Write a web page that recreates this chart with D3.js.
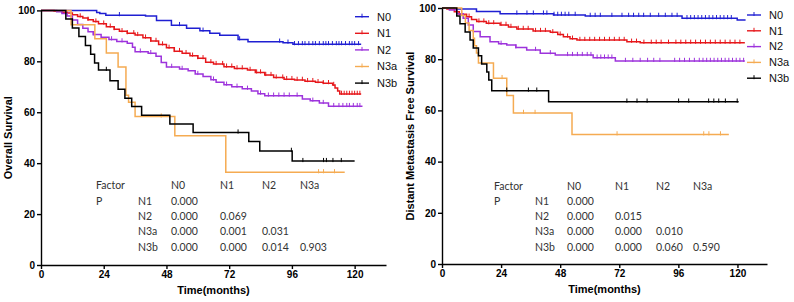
<!DOCTYPE html>
<html><head><meta charset="utf-8">
<script src="https://cdn.jsdelivr.net/npm/d3@7/dist/d3.min.js"></script>
<style>html,body{margin:0;padding:0;background:#fff;}svg{display:block;}</style>
</head><body><svg id="c" width="794" height="302"></svg>
<script>
// ---------- DATA ----------
const groups = ["N0", "N1", "N2", "N3a", "N3b"];
const xTicks = [0, 24, 48, 72, 96, 120];
const yTicks = [0, 20, 40, 60, 80, 100];

// Overall survival step points [month, %]
const osN0 = [[0,100],[21.3,99.2],[22.5,98.8],[24.8,98.1],[40,97.8],[44.2,96.0],[49.9,94.2],[55.7,93.0],[60.8,92.0],[64.6,91.0],[68.4,90.2],[75.4,88.6],[79.2,87.7],[92.6,87.3],[96.4,86.7]];
const osN1 = [[0,100],[5,99.7],[8,99.3],[10,99.0],[12,98.3],[14,97.6],[16,97.0],[18,96.3],[20,95.6],[22,94.8],[25,93.6],[28,92.6],[30,91.8],[33,91.0],[36,90.3],[39,89.3],[42,88.0],[45,86.6],[48,85.3],[51,84.0],[54,83.2],[57,82.2],[60,81.2],[63,79.6],[66,78.9],[70,77.9],[74,77.2],[79,76.6],[82,75.6],[85.6,74.6],[89,73.6],[93,73.0],[97,72.7],[101,72.2],[105,71.8],[108,71.4],[111.6,70.7],[112.5,69.5],[113.5,68.3],[114.3,67.2]];
const osN2 = [[0,100],[6,99.5],[8,98.8],[10,97.8],[12,96.2],[14,94.5],[16,93.0],[18,91.6],[20,90.5],[23,89.5],[26,88.6],[29,87.8],[33,87.1],[35,85.5],[36,83.8],[41,83.2],[44,82.0],[46,79.5],[48,77.8],[53,77.0],[56.3,76.3],[59,75.0],[62,74.0],[65,72.8],[67,71.8],[70,70.8],[73,70.0],[77,69.2],[80.5,68.3],[83,67.3],[85.6,66.5],[100,65.2],[103,64.5],[106.5,63.6],[110,62.4]];
const osN3a = [[0,100],[11.5,94.4],[20.6,88.9],[25,83.3],[29.5,77.8],[32.5,66.7],[33.5,63.9],[36,58.3],[51.2,50.8],[70.7,36.4]];
const osN3b = [[0,100],[9.5,96.6],[12,93.1],[14.5,89.7],[17,86.2],[19,82.8],[20.5,79.3],[22,76.6],[26.4,72.4],[29.5,69.0],[32.1,65.5],[34.7,62.3],[38.5,58.8],[49.3,55.4],[58.2,52.0],[79.5,48.5],[83.7,44.8],[96.1,40.8]];
const osEnd = [122.5, 122.5, 123, 116.2, 120];
const osCensN0 = [30,53,62,76,91.3,94.5,97,98.5,100,101,102.5,104,105,106.5,108,109,110,111.5,113,114,115,116.5,118,119,120,121.5];
const osCensN1 = [15,18,21,24,26.5,28,31,33,35.5,37,40,42,44,46.5,49,51,53,55.5,58,60,62,65,67,69.5,71,73,75,77,80,82.5,84,86,88,90,92.5,94,96,98,100,102,104,106,108,110,112,115,116,117,118,119,120,121,122];
const osCensN2 = [20,27,31,38,42,50,54,60,66,71,75,79,84,87,89,91,93,95,98,104,108,112,114,115.5,117,118,119.5,121,122];
const osCensN3a = [46,106.2,108.1,112.3];
const osCensN3b = [25,75.4,95.8,100.2,108.1,109.2,111.7,114.9];

// Distant metastasis free survival step points
const dmN0 = [[0,100],[5,99.6],[14,98.6],[23.6,97.8],[45.3,97.3],[58.2,96.9],[97.5,96.0],[119.9,95.3]];
const dmN1 = [[0,100],[2,99.6],[5,98.5],[7,97.6],[10,96.6],[12,95.5],[14.1,94.7],[18,94.0],[23.6,93.4],[27,92.6],[30.4,91.8],[37,91.0],[44,90.5],[47,89.6],[49.3,88.8],[52,88.0],[54.8,87.5],[75.1,86.8],[80.5,86.4]];
const dmN2 = [[0,100],[3,99.2],[6,97.8],[8.6,96.0],[10.7,93.4],[12.7,90.8],[15.5,88.8],[19.5,86.8],[23,86.0],[26.3,85.5],[30,84.6],[34.4,83.6],[39.9,82.3],[46,81.6],[61.4,80.6],[70.4,79.3]];
const dmN3a = [[0,100],[8,97.1],[9.5,94.1],[11,91.2],[12.7,88.2],[13.2,85.3],[14,82.4],[14.8,78.5],[20.9,72.6],[26.3,65.8],[29,59.0],[52.8,50.6]];
const dmN3b = [[0,100],[6,96.9],[7.3,93.8],[9.4,90.6],[11.4,87.5],[12.7,84.4],[14.8,81.3],[16.1,78.1],[18.2,75.0],[19,71.9],[20.2,67.7],[43.3,63.4]];
const dmEnd = [123.3, 123, 123, 116.5, 120.5];
const dmCensN0 = [30.4,34.5,37.1,41.2,42.6,45.5,47,48.5,50,51.5,54.1,60.2,62.2,64.3,69,73.1,75.8,77.8,79.9,81.9,84.6,88,90.7,93.4,95.5,99.5,101,102.5,104,105.5,107,108.5,110,111.5,113,114.5,116,117.5];
const dmCensN1 = [8,11,15,17,19,21,24,26,28,31,33,35,38,40,42,45,48,51,53,56,58,60,62,64,66,68,70,72,74,77,79,82,85,87,89,92,95,97,99,101,103,105,107,109,111,113,115,117,119,121];
const dmCensN2 = [24,30,38,44,51,53,55,57,59,60.5,63,64.5,66,67.5,69,74.5,77.5,80.5,83.5,86,88.5,94.5,96.5,98.5,100.5,102.5,104.5,106,107.5,109,110.5,112,113.5,115,116.5,118,119.5,121,122.5];
const dmCensN3a = [24.4,33.1,37.8,71.1,106.3,108.4,113.1];
const dmCensN3b = [26.3,35.1,38.5,75.1,79.2,83.3,96.1,100.2,108.3,110.4,112.4,115.1,119.9];

// P-value tables
const tableCols = ["N0", "N1", "N2", "N3a"];
const tableRows = ["N1", "N2", "N3a", "N3b"];
const osP = [["0.000"], ["0.000","0.069"], ["0.000","0.001","0.031"], ["0.000","0.000","0.014","0.903"]];
const dmP = [["0.000"], ["0.000","0.015"], ["0.000","0.000","0.010"], ["0.000","0.000","0.060","0.590"]];

// ---------- STYLE / LAYOUT ----------
const colors = ["#1f1fd2", "#e6171b", "#9d33dc", "#f5ab52", "#000000"];
const svg = d3.select("#c");
const axisFont = "'Liberation Sans', Arial, sans-serif";
const tableFont = "Lato, 'Open Sans', sans-serif";

const panels = [
  { x0: 41, x1: 386, y0: 265, y1: 10.4, ylabel: "Overall Survival", ylabX: 12,
    series: [osN0, osN1, osN2, osN3a, osN3b], ends: osEnd,
    cens: [osCensN0, osCensN1, osCensN2, osCensN3a, osCensN3b],
    legX: 355, legY0: 16.7, legDy: 16.6, p: osP,
    tab: { factorX: 96, rowX: 138, colX: [171, 220, 262, 300], rowY: [185, 201, 216, 231, 247] } },
  { x0: 442, x1: 767, y0: 264, y1: 8, ylabel: "Distant Metastasis Free Survival", ylabX: 414,
    series: [dmN0, dmN1, dmN2, dmN3a, dmN3b], ends: dmEnd,
    cens: [dmCensN0, dmCensN1, dmCensN2, dmCensN3a, dmCensN3b],
    legX: 747, legY0: 15, legDy: 15.8, p: dmP,
    tab: { factorX: 494, rowX: 535, colX: [567, 615, 656, 693], rowY: [186, 201, 216, 231, 247] } }
];

panels.forEach(P => {
  const x = d3.scaleLinear().domain([0, 132]).range([P.x0, P.x1]);
  const y = d3.scaleLinear().domain([0, 100]).range([P.y0, P.y1]);
  const g = svg.append("g");

  // curves
  P.series.forEach((s, i) => {
    const pts = s.concat([[P.ends[i], s[s.length - 1][1]]]);
    const line = d3.line().x(d => x(d[0])).y(d => y(d[1])).curve(d3.curveStepAfter);
    g.append("path").attr("d", line(pts)).attr("fill", "none")
      .attr("stroke", colors[i]).attr("stroke-width", 1.5);
    const valAt = t => { let v = s[0][1]; for (const p of s) { if (p[0] <= t) v = p[1]; } return v; };
    P.cens[i].forEach(t => {
      const yy = y(valAt(t));
      g.append("line").attr("x1", x(t)).attr("x2", x(t)).attr("y1", yy - 3.2).attr("y2", yy + 1)
        .attr("stroke", colors[i]).attr("stroke-width", 1);
    });
  });

  // axes
  const xa = g.append("g").attr("transform", `translate(0,${P.y0})`)
    .call(d3.axisBottom(x).tickValues(xTicks).tickSize(4).tickSizeOuter(0));
  const ya = g.append("g").attr("transform", `translate(${P.x0},0)`)
    .call(d3.axisLeft(y).tickValues(yTicks).tickSize(4).tickSizeOuter(0));
  [xa, ya].forEach(a => {
    a.select(".domain").attr("stroke", "#000").attr("stroke-width", 1.4);
    a.selectAll(".tick line").attr("stroke", "#000").attr("stroke-width", 1.4);
    a.selectAll(".tick text").attr("fill", "#000").style("font-family", axisFont)
      .style("font-size", "10px").style("font-weight", "bold");
  });
  xa.selectAll(".tick text").attr("dy", "0.71em").attr("y", 6);
  ya.selectAll(".tick text").attr("x", -6);

  // axis titles
  g.append("text").attr("x", (P.x0 + P.x1) / 2).attr("y", P.y0 + 29).attr("text-anchor", "middle")
    .style("font-family", axisFont).style("font-size", "11px").style("font-weight", "bold")
    .text("Time(months)");
  g.append("text").attr("transform", `translate(${P.ylabX},${(P.y0 + P.y1) / 2}) rotate(-90)`)
    .attr("text-anchor", "middle")
    .style("font-family", axisFont).style("font-size", "11px").style("font-weight", "bold")
    .text(P.ylabel);

  // legend
  groups.forEach((name, i) => {
    const ly = P.legY0 + i * P.legDy;
    g.append("line").attr("x1", P.legX).attr("x2", P.legX + 14).attr("y1", ly).attr("y2", ly)
      .attr("stroke", colors[i]).attr("stroke-width", 1.4);
    g.append("line").attr("x1", P.legX + 7).attr("x2", P.legX + 7).attr("y1", ly - 3).attr("y2", ly + 1)
      .attr("stroke", colors[i]).attr("stroke-width", 1);
    g.append("text").attr("x", P.legX + 22).attr("y", ly).attr("dy", "0.35em")
      .style("font-family", axisFont).style("font-size", "11px").attr("fill", "#111").text(name);
  });

  // p-value table
  const T = P.tab;
  const tt = (tx, ty, s) => g.append("text").attr("x", tx).attr("y", ty).attr("dy", "0.35em")
    .style("font-family", tableFont).style("font-size", "10.5px").attr("fill", "#333").text(s);
  tt(T.factorX, T.rowY[0], "Factor");
  tableCols.forEach((c, j) => tt(T.colX[j], T.rowY[0], c));
  tt(T.factorX, T.rowY[1], "P");
  tableRows.forEach((r, k) => {
    tt(T.rowX, T.rowY[k + 1], r);
    P.p[k].forEach((v, j) => tt(T.colX[j], T.rowY[k + 1], v));
  });
});
</script></body></html>
